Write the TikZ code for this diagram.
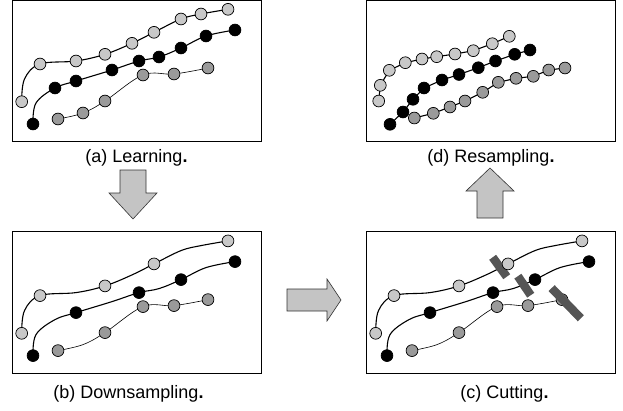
\documentclass[tikz,border=0pt]{standalone}
\usepackage{fontspec}
\setmainfont{Liberation Sans}
\begin{document}
\begin{tikzpicture}[x=1pt,y=-1pt,
  frame/.style={draw=black,line width=0.9pt,fill=white},
  thickcurve/.style={draw=black,line width=1.1pt},
  thincurve/.style={draw=black,line width=0.6pt},
  pt/.style={circle,draw=black,line width=0.7pt,minimum size=11.8pt,inner sep=0pt},
  lp/.style={pt,fill=lightc},
  kp/.style={pt,fill=black},
  mp/.style={pt,fill=midc},
  cutbar/.style={rectangle,fill=barc,inner sep=0pt,minimum height=8.5pt},
  blockarrow/.style={draw=black!80,line width=0.6pt,fill=arrowc},
  caption/.style={font=\fontsize{18}{20}\selectfont,anchor=center,inner sep=0pt}
]
\definecolor{lightc}{HTML}{C8C8C8}
\definecolor{midc}{HTML}{9A9A9A}
\definecolor{barc}{HTML}{555555}
\definecolor{arrowc}{HTML}{C4C4C4}
\useasboundingbox (0,0) rectangle (623,410);

\newcommand\trajcurves{%
  \coordinate (L1) at (21.7,101.7); \coordinate (L2) at (40,64);
  \coordinate (L3) at (76,61);      \coordinate (L4) at (105,54.3);
  \coordinate (L5) at (132,43.3);   \coordinate (L6) at (154,32.3);
  \coordinate (L7) at (181,19);     \coordinate (L8) at (201,14);
  \coordinate (L9) at (228,9.3);    \coordinate (Lx) at (24.5,79);
  \coordinate (K1) at (33,124);     \coordinate (K2) at (55,88);
  \coordinate (K3) at (76,81);      \coordinate (K4) at (112,70);
  \coordinate (K5) at (139,61);     \coordinate (K6) at (159,57);
  \coordinate (K7) at (181,48);     \coordinate (K8) at (206,36);
  \coordinate (K9) at (235,30);     \coordinate (Kx) at (36,103);
  \coordinate (M1) at (58,119);     \coordinate (M2) at (83,113);
  \coordinate (M3) at (105,101);    \coordinate (M4) at (143,75);
  \coordinate (M5) at (174,74);     \coordinate (M6) at (208,68);
  \draw[thickcurve] plot[smooth,tension=0.6] coordinates {(L1) (Lx) (L2) (L3) (L4) (L5) (L6) (L7) (L8) (L9)};
  \draw[thickcurve] plot[smooth,tension=0.6] coordinates {(K1) (Kx) (K2) (K3) (K4) (K5) (K6) (K7) (K8) (K9)};
  \draw[thincurve] plot[smooth,tension=0.6] coordinates {(M1) (M2) (M3) (M4) (M5) (M6)};
}

% ---------- (a) Learning ----------
\begin{scope}[name prefix=a-]
  \draw[frame] (12,0.5) rectangle (261,141.7);
  \trajcurves
  \foreach \i in {1,...,9} {\node[lp] (l\i) at (L\i) {};}
  \foreach \i in {1,...,9} {\node[kp] (k\i) at (K\i) {};}
  \foreach \i in {1,...,6} {\node[mp] (m\i) at (M\i) {};}
\end{scope}
\node[caption] (capa) at (136.5,158) {(a) Learning\textbf{.}};

% ---------- (b) Downsampling ----------
\begin{scope}[shift={(0,231.6)},name prefix=b-]
  \draw[frame] (12,0) rectangle (261,141.7);
  \trajcurves
  \foreach \i in {1,2,4,6,9} {\node[lp] (l\i) at (L\i) {};}
  \foreach \i in {1,3,5,7,9} {\node[kp] (k\i) at (K\i) {};}
  \foreach \i in {1,3,4,5,6} {\node[mp] (m\i) at (M\i) {};}
\end{scope}
\node[caption] (capb) at (128.5,394) {(b) Downsampling\textbf{.}};

% ---------- (c) Cutting ----------
\begin{scope}[shift={(354,231.6)},name prefix=c-]
  \draw[frame] (12,0) rectangle (261,141.7);
  \trajcurves
  \node[cutbar,rotate=-54,minimum width=24pt] (bar1) at (145.7,35.4) {};
  \node[cutbar,rotate=-56,minimum width=23pt] (bar2) at (170.3,54.1) {};
  \foreach \i in {1,2,4,6,9} {\node[lp] (l\i) at (L\i) {};}
  \foreach \i in {1,3,5,7,9} {\node[kp] (k\i) at (K\i) {};}
  \foreach \i in {1,3,4,5,6} {\node[mp] (m\i) at (M\i) {};}
  \node[cutbar,rotate=-46,minimum width=42pt] (bar3) at (212.2,71.6) {};
\end{scope}
\node[caption] (capc) at (504.5,394) {(c) Cutting\textbf{.}};

% ---------- (d) Resampling ----------
\begin{scope}[name prefix=d-]
  \draw[frame] (366,0.5) rectangle (615,141.7);
  \foreach \i/\p in {1/{378.7,101},2/{380.3,85.3},3/{389.3,70.3},4/{405.3,62.7},5/{422,59},
                     6/{436.7,56.7},7/{455,54},8/{473.3,50.7},9/{492.3,43.7},10/{509.3,36.3}}
    {\coordinate (L\i) at (\p);}
  \foreach \i/\p in {1/{390,124.3},2/{403,112},3/{413,99.3},4/{424,88},5/{442,80},
                     6/{459,74.5},7/{478.3,67.7},8/{495.5,61},9/{514.7,54.3},10/{530,50}}
    {\coordinate (K\i) at (\p);}
  \foreach \i/\p in {1/{414.3,118},2/{433.3,113.3},3/{450,107},4/{465,101},5/{482.7,92.3},
                     6/{498.3,82.3},7/{516,78.3},8/{533.3,76.3},9/{548.7,70},10/{565,68}}
    {\coordinate (M\i) at (\p);}
  \draw[thickcurve] (L1)--(L2)--(L3)--(L4)--(L5)--(L6)--(L7)--(L8)--(L9)--(L10);
  \draw[thickcurve] (K1)--(K2)--(K3)--(K4)--(K5)--(K6)--(K7)--(K8)--(K9)--(K10);
  \draw[thickcurve] (M1)--(M2)--(M3)--(M4)--(M5)--(M6)--(M7)--(M8)--(M9)--(M10);
  \foreach \i in {1,...,10} {\node[lp] (l\i) at (L\i) {};}
  \foreach \i in {1,...,10} {\node[kp] (k\i) at (K\i) {};}
  \foreach \i in {1,...,10} {\node[mp] (m\i) at (M\i) {};}
\end{scope}
\node[caption] (capd) at (491,158) {(d) Resampling\textbf{.}};

% ---------- block arrows ----------
\draw[blockarrow] (120,170) -- (146,170) -- (146,193) -- (157,193) -- (133,219)
   -- (109,193) -- (120,193) -- cycle;
\draw[blockarrow] (287,289) -- (327,289) -- (327,279) -- (341,300) -- (327,321)
   -- (327,311) -- (287,311) -- cycle;
\draw[blockarrow] (477,218) -- (503,218) -- (503,191) -- (514,191) -- (490,168)
   -- (466,191) -- (477,191) -- cycle;
\end{tikzpicture}
\end{document}
